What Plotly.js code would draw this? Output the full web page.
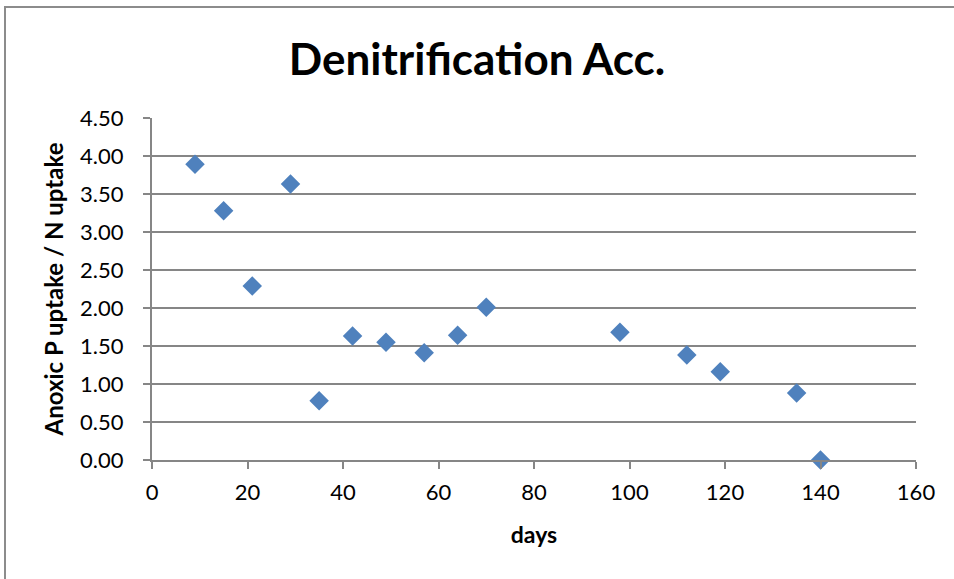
<!DOCTYPE html>
<html>
<head>
<meta charset="utf-8">
<script src="https://cdn.plot.ly/plotly-3.0.1.min.js"></script>
<style>
  html, body { margin: 0; padding: 0; background: #fff; overflow: hidden; }
  #frame { position: absolute; left: 4px; top: 6px; width: 1000px; height: 700px; border: 2px solid #8c8c8c; box-sizing: border-box; }
  #chart { position: absolute; left: 0; top: 0; width: 954px; height: 579px; }
</style>
</head>
<body>
<div id="frame"></div>
<div id="chart"></div>
<script>
const days = [9, 15, 21, 29, 35, 42, 49, 57, 64, 70, 98, 112, 119, 135, 140];
const ratio = [3.89, 3.28, 2.29, 3.63, 0.78, 1.63, 1.55, 1.41, 1.64, 2.01, 1.68, 1.38, 1.16, 0.88, 0.00];
const yTicks = [0, 0.5, 1, 1.5, 2, 2.5, 3, 3.5, 4, 4.5];
const yTickText = ["0.00", "0.50", "1.00", "1.50", "2.00", "2.50", "3.00", "3.50", "4.00", "4.50"];
const xTicks = [0, 20, 40, 60, 80, 100, 120, 140, 160];

const fontFam = "Lato, 'Open Sans', 'DejaVu Sans', sans-serif";

Plotly.newPlot('chart', [{
  x: days, y: ratio, type: 'scatter', mode: 'markers',
  marker: { symbol: 'diamond', size: 15, color: '#4F81BD', line: { width: 0 } },
  cliponaxis: false, hoverinfo: 'x+y'
}], {
  width: 954, height: 579,
  paper_bgcolor: 'rgba(0,0,0,0)', plot_bgcolor: 'rgba(0,0,0,0)',
  margin: { l: 152, r: 38, t: 118, b: 119 },
  showlegend: false,
  font: { family: fontFam, color: '#000' },
  title: { text: '<b>Denitrification Acc.</b>', font: { size: 44, family: fontFam }, x: 0.5, xanchor: 'center', y: 0.897, yanchor: 'middle' },
  xaxis: {
    range: [0, 160], tickvals: xTicks, ticktext: xTicks.map(String),
    showgrid: false, zeroline: false, showline: true, linecolor: '#868686', linewidth: 2,
    ticks: 'outside', ticklen: 7, tickwidth: 2, tickcolor: '#868686',
    tickfont: { size: 22, family: fontFam }, automargin: false, ticklabelstandoff: 5,
    title: { text: '<b>days</b>', font: { size: 23, family: fontFam }, standoff: 22 }
  },
  yaxis: {
    range: [0, 4.5], tickvals: yTicks, ticktext: yTickText,
    showgrid: true, gridcolor: '#868686', gridwidth: 2, zeroline: false,
    showline: true, linecolor: '#868686', linewidth: 2,
    ticks: 'outside', ticklen: 7, tickwidth: 2, tickcolor: '#868686',
    tickfont: { size: 22, family: fontFam }, automargin: false, ticklabelstandoff: 15,
    title: { text: '<b>Anoxic P uptake / N uptake</b>', font: { size: 24, family: fontFam }, standoff: 10 }
  }
}, { displayModeBar: false, staticPlot: true });
</script>
</body>
</html>
